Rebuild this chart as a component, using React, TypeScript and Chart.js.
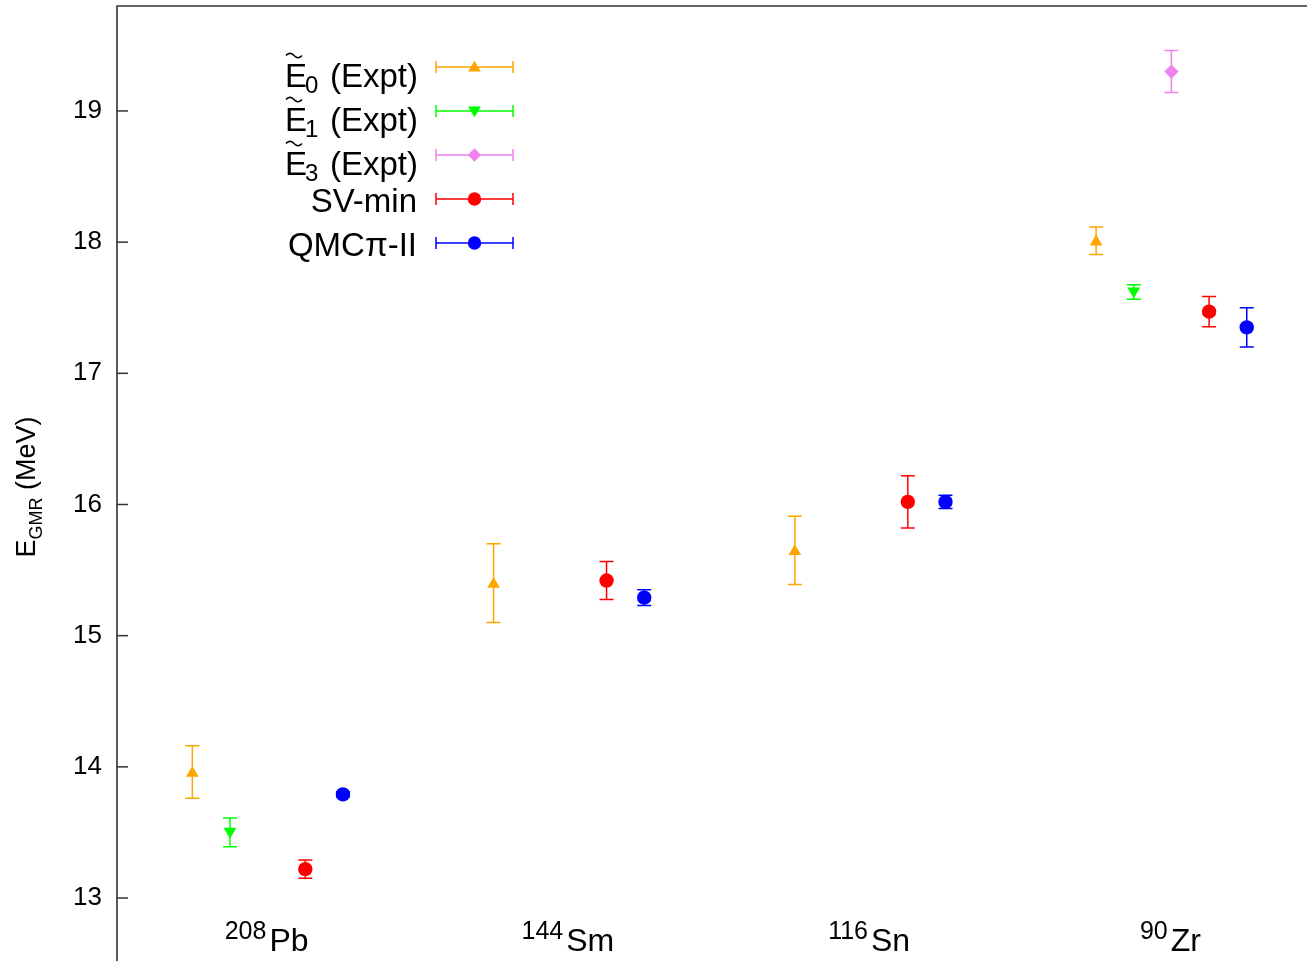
import React, { useEffect, useRef } from 'react';
import { Chart, registerables } from 'chart.js';
Chart.register(...registerables);

// ---- data ----
const nucleusMass = ['208', '144', '116', '90'];
const nucleusSymbol = ['Pb', 'Sm', 'Sn', 'Zr'];
const nucleusPos = [1, 2, 3, 4];

const e0Values = [13.96, 15.4, 15.65, 18.01];
const e0Errors = [0.2, 0.3, 0.26, 0.105];
const e1Values: (number | null)[] = [13.5, null, null, 17.62];
const e1Errors: (number | null)[] = [0.11, null, null, 0.056];
const e3Values: (number | null)[] = [null, null, null, 19.3];
const e3Errors: (number | null)[] = [null, null, null, 0.16];
const svMinValues = [13.22, 15.42, 16.02, 17.47];
const svMinErrors = [0.07, 0.145, 0.2, 0.115];
const qmcValues = [13.79, 15.29, 16.02, 17.35];
const qmcErrors = [0.02, 0.06, 0.05, 0.15];

const seriesOffsets = [-0.25, -0.125, 0, 0.125, 0.25];
const seriesLabels = ['E0 (Expt)', 'E1 (Expt)', 'E3 (Expt)', 'SV-min', 'QMCπ-II'];
const seriesSubscripts = ['0', '1', '3', '', ''];
const seriesColors = ['#FFA500', '#00FF00', '#EE82EE', '#FF0000', '#0000FF'];
const seriesShapes = ['triangle', 'triangleDown', 'diamond', 'circle', 'circle'];

const yTicks = [13, 14, 15, 16, 17, 18, 19];
const yMin = 12.52;
const yMax = 19.8;
const xMin = 0.5;
const xMax = 4.45;

const FONT = '"Liberation Sans", Arial, sans-serif';

function buildPoints(vals: (number | null)[], errs: (number | null)[], offset: number) {
  const pts: any[] = [];
  vals.forEach((v, i) => {
    if (v !== null && v !== undefined) pts.push({ x: nucleusPos[i] + offset, y: v, err: errs[i] ?? 0 });
  });
  return pts;
}

function drawMarker(ctx: CanvasRenderingContext2D, shape: string, x: number, y: number, color: string, r = 7.2) {
  ctx.save();
  ctx.fillStyle = color;
  ctx.beginPath();
  if (shape === 'circle') {
    ctx.arc(x, y, r, 0, Math.PI * 2);
  } else if (shape === 'triangle' || shape === 'triangleDown') {
    const s = shape === 'triangle' ? 1 : -1;
    ctx.moveTo(x, y - s * 6.2);
    ctx.lineTo(x + 6.4, y + s * 4.6);
    ctx.lineTo(x - 6.4, y + s * 4.6);
    ctx.closePath();
  } else if (shape === 'diamond') {
    ctx.moveTo(x, y - r);
    ctx.lineTo(x + r, y);
    ctx.lineTo(x, y + r);
    ctx.lineTo(x - r, y);
    ctx.closePath();
  }
  ctx.fill();
  ctx.restore();
}

const customPlugin = {
  id: 'custom',
  beforeDatasetsDraw(chart: any) {
    const { ctx, chartArea } = chart;
    const ys = chart.scales.y;
    const xs = chart.scales.x;
    ctx.save();
    ctx.beginPath();
    ctx.rect(chartArea.left, chartArea.top, chartArea.right - chartArea.left, chartArea.bottom - chartArea.top);
    ctx.clip();
    chart.data.datasets.forEach((ds: any) => {
      ctx.strokeStyle = ds.borderColor;
      ctx.lineWidth = 1.5;
      ds.data.forEach((p: any) => {
        if (!p.err) return;
        const px = xs.getPixelForValue(p.x);
        const yt = ys.getPixelForValue(p.y + p.err);
        const yb = ys.getPixelForValue(p.y - p.err);
        ctx.beginPath();
        ctx.moveTo(px, yt);
        ctx.lineTo(px, yb);
        ctx.moveTo(px - 7, yt);
        ctx.lineTo(px + 7, yt);
        ctx.moveTo(px - 7, yb);
        ctx.lineTo(px + 7, yb);
        ctx.stroke();
      });
    });
    ctx.restore();
  },
  afterDatasetsDraw(chart: any) {
    const { ctx, chartArea } = chart;
    const ys = chart.scales.y;
    const xs = chart.scales.x;
    // custom markers
    chart.data.datasets.forEach((ds: any, i: number) => {
      ds.data.forEach((p: any) => {
        drawMarker(ctx, seriesShapes[i], xs.getPixelForValue(p.x), ys.getPixelForValue(p.y), seriesColors[i]);
      });
    });
    // frame
    ctx.save();
    ctx.strokeStyle = '#333333';
    ctx.lineWidth = 1.6;
    ctx.beginPath();
    ctx.moveTo(chartArea.left, chartArea.bottom);
    ctx.lineTo(chartArea.left, chartArea.top);
    ctx.lineTo(chartArea.right + 2, chartArea.top);
    ctx.stroke();
    ctx.lineWidth = 1.5;
    yTicks.forEach((t) => {
      const py = ys.getPixelForValue(t);
      ctx.beginPath();
      ctx.moveTo(chartArea.left, py);
      ctx.lineTo(chartArea.left + 11, py);
      ctx.stroke();
    });
    ctx.restore();

    // category labels
    ctx.save();
    ctx.fillStyle = '#000';
    ctx.textBaseline = 'alphabetic';
    nucleusPos.forEach((pos, i) => {
      const cx = xs.getPixelForValue(pos);
      ctx.font = `25px ${FONT}`;
      const wm = ctx.measureText(nucleusMass[i]).width;
      ctx.font = `32px ${FONT}`;
      const wsym = ctx.measureText(nucleusSymbol[i]).width;
      const gap = 3;
      const left = cx - (wm + gap + wsym) / 2 - 1;
      const base = chartArea.bottom - 10;
      ctx.font = `25px ${FONT}`;
      ctx.fillText(nucleusMass[i], left, base - 12);
      ctx.font = `32px ${FONT}`;
      ctx.fillText(nucleusSymbol[i], left + wm + gap, base);
    });
    ctx.restore();

    // legend
    ctx.save();
    const rowTop = 67;
    const rowGap = 44;
    seriesLabels.forEach((label, i) => {
      const ry = rowTop + rowGap * i;
      const color = seriesColors[i];
      ctx.strokeStyle = color;
      ctx.lineWidth = 1.5;
      ctx.beginPath();
      ctx.moveTo(436, ry);
      ctx.lineTo(513, ry);
      ctx.moveTo(436, ry - 6);
      ctx.lineTo(436, ry + 6);
      ctx.moveTo(513, ry - 6);
      ctx.lineTo(513, ry + 6);
      ctx.stroke();
      drawMarker(ctx, seriesShapes[i], 474.5, ry, color, 6.7);

      ctx.fillStyle = '#000';
      if (seriesSubscripts[i]) {
        const base = ry + 19.5;
        ctx.font = `33px ${FONT}`;
        ctx.textAlign = 'left';
        const x0 = 285;
        ctx.fillText('E', x0, base);
        const wE = ctx.measureText('E').width;
        // tilde
        ctx.strokeStyle = '#000';
        ctx.lineWidth = 1.6;
        const ty = base - 31;
        const tw = 16;
        ctx.beginPath();
        for (let k = 0; k <= 16; k++) {
          const t = k / 16;
          const px = x0 + 1 + tw * t;
          const py = ty - 2.2 * Math.sin(t * Math.PI * 2);
          if (k === 0) ctx.moveTo(px, py);
          else ctx.lineTo(px, py);
        }
        ctx.stroke();
        ctx.font = `24px ${FONT}`;
        ctx.fillText(seriesSubscripts[i], x0 + wE - 2, base + 6);
        ctx.font = `33px ${FONT}`;
        ctx.textAlign = 'right';
        ctx.fillText('(Expt)', 418, base);
      } else {
        ctx.font = `33px ${FONT}`;
        ctx.textAlign = 'right';
        ctx.fillText(label, 417, ry + 12.5);
      }
    });
    ctx.restore();

    // y title
    ctx.save();
    ctx.translate(35, 487);
    ctx.rotate(-Math.PI / 2);
    ctx.fillStyle = '#000';
    ctx.font = `27px ${FONT}`;
    const wE = ctx.measureText('E').width;
    const wRest = ctx.measureText(' (MeV)').width;
    ctx.font = `18px ${FONT}`;
    const wSub = ctx.measureText('GMR').width;
    let x = -(wE + wSub + wRest) / 2;
    ctx.font = `27px ${FONT}`;
    ctx.fillText('E', x, 0);
    x += wE;
    ctx.font = `18px ${FONT}`;
    ctx.fillText('GMR', x, 7);
    x += wSub;
    ctx.font = `27px ${FONT}`;
    ctx.fillText(' (MeV)', x, 0);
    ctx.restore();
  },
};

export default function App() {
  const ref = useRef<HTMLCanvasElement | null>(null);
  useEffect(() => {
    if (!ref.current) return;
    const datasets = [
      buildPoints(e0Values, e0Errors, seriesOffsets[0]),
      buildPoints(e1Values, e1Errors, seriesOffsets[1]),
      buildPoints(e3Values, e3Errors, seriesOffsets[2]),
      buildPoints(svMinValues, svMinErrors, seriesOffsets[3]),
      buildPoints(qmcValues, qmcErrors, seriesOffsets[4]),
    ].map((pts, i) => ({
      label: seriesLabels[i],
      data: pts,
      borderColor: seriesColors[i],
      backgroundColor: seriesColors[i],
      pointRadius: 0,
      pointHoverRadius: 0,
      showLine: false,
    }));
    const chart = new Chart(ref.current, {
      type: 'scatter',
      data: { datasets },
      options: {
        animation: false,
        responsive: false,
        layout: { padding: { top: 6, left: 0, right: 0, bottom: 0 } },
        plugins: { legend: { display: false }, tooltip: { enabled: false } },
        scales: {
          x: { type: 'linear', min: xMin, max: xMax, display: false },
          y: {
            type: 'linear',
            min: yMin,
            max: yMax,
            afterBuildTicks: (scale: any) => {
              scale.ticks = yTicks.map((v) => ({ value: v }));
            },
            afterFit: (scale: any) => {
              scale.width = 117;
              scale.paddingTop = 0;
              scale.paddingBottom = 0;
            },
            grid: { display: false, drawTicks: false },
            border: { display: false },
            ticks: {
              padding: 15,
              color: '#000',
              font: { family: '"Liberation Sans", Arial, sans-serif', size: 26 },
            },
          },
        },
      },
      plugins: [customPlugin],
    } as any);
    return () => chart.destroy();
  }, []);
  return (
    <div style={{ position: 'absolute', left: 0, top: 0, width: 1307, height: 961, background: '#fff' }}>
      <canvas ref={ref} width={1307} height={961} />
    </div>
  );
}
